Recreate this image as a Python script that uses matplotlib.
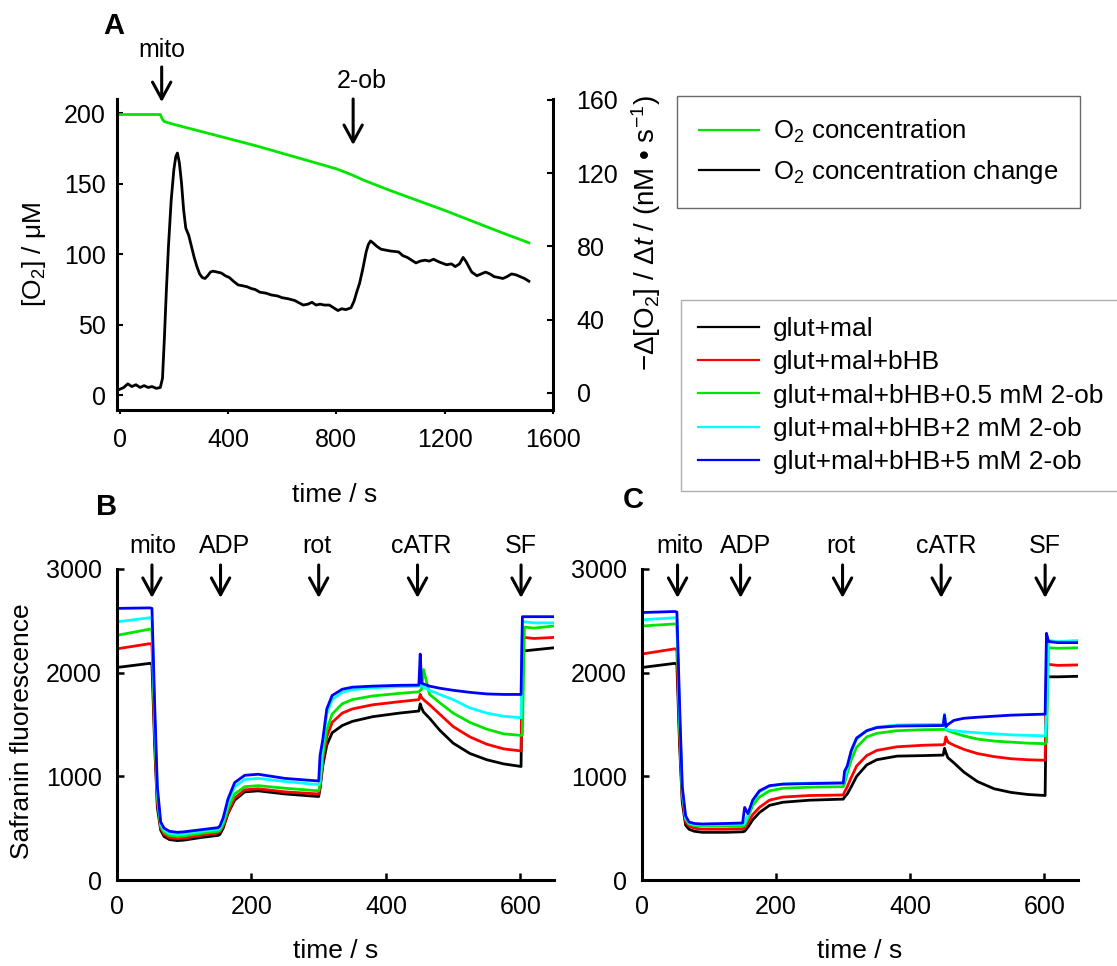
import matplotlib
matplotlib.use("Agg")
import matplotlib.pyplot as plt
from matplotlib.lines import Line2D

# ---- panel A: oxygen electrode trace ----
A_O2_TIME = [0, 150, 158, 165, 200, 300, 400, 500, 600, 700,
             800, 860, 900, 1000, 1100, 1200, 1300, 1400, 1511]
A_O2_CONC = [199, 199, 195.5, 194, 192, 187, 182, 177, 171.5, 166,
             160.5, 156, 152.5, 145, 138, 131, 123.5, 116, 108]

A_RATE_TIME = [0, 15, 30, 45, 60, 75, 90, 105, 120, 135,
               150, 158, 165, 172, 180, 190, 200, 207, 213, 220,
               228, 236, 244, 255, 265, 275, 285, 295, 305, 315,
               325, 335, 345, 360, 375, 390, 405, 420, 437, 455,
               470, 486, 500, 518, 540, 560, 582, 600, 620, 646,
               665, 678, 695, 710, 725, 740, 755, 774, 790, 806,
               820, 835, 854, 865, 875, 886, 898, 910, 918, 926,
               935, 950, 965, 982, 1000, 1030, 1045, 1062, 1078, 1094,
               1110, 1127, 1143, 1159, 1180, 1207, 1225, 1239, 1255, 1268,
               1278, 1287, 1300, 1319, 1335, 1351, 1367, 1383, 1400, 1415,
               1430, 1447, 1463, 1479, 1495, 1511]
A_RATE = [2, 3, 5, 3.5, 4.5, 3, 4, 3, 3.5, 2.5,
          3, 8, 30, 55, 80, 105, 122, 129, 131, 126,
          115, 100, 90, 86, 80, 74, 69, 65, 63, 62.5,
          64, 66, 66.5, 66, 65.5, 64, 63, 61, 59, 58.5,
          58, 57, 56.5, 55, 54.5, 53.5, 53, 52, 51.5, 50.5,
          49, 48, 48.5, 49.5, 48, 48.5, 48, 48, 46.5, 45,
          46, 45.5, 46.5, 50, 55, 60, 68, 77, 81, 83,
          82, 80, 78.5, 78, 77.5, 77, 75, 74, 72.5, 71,
          72, 72.5, 72, 73, 71.5, 70, 70.5, 69, 70.5, 74,
          72, 69.5, 66, 64, 65, 66, 65, 63.5, 63, 62.5,
          63.5, 65, 64.5, 63.5, 62.5, 61]

A_MARKS = ["mito", "2-ob"]
A_MARK_TIME = [155, 862]
A_MARK_TEXT_TIME = [157, 894]

# ---- panels B and C: safranin fluorescence ----
TIME = [0, 49, 52, 56, 60, 65, 70, 78, 90, 100,
        125, 150, 153, 158, 165, 175, 190, 210, 250, 300,
        302, 306, 312, 320, 335, 350, 380, 420, 449, 451,
        453, 456, 465, 480, 500, 525, 550, 575, 601, 603,
        606, 620, 650]

B_GLUT_MAL = [2050, 2090, 2080, 1300, 700, 480, 420, 390, 380, 385,
              410, 430, 440, 500, 640, 770, 850, 860, 830, 805,
              880, 1100, 1300, 1420, 1490, 1530, 1575, 1610, 1630, 1700,
              1660, 1620, 1560, 1445, 1320, 1220, 1160, 1120, 1095, 2200,
              2210, 2220, 2240]
B_BHB = [2230, 2280, 2270, 1400, 750, 500, 440, 410, 400, 405,
         430, 455, 465, 520, 650, 790, 870, 880, 850, 830,
         900, 1150, 1380, 1520, 1610, 1650, 1690, 1720, 1740, 1790,
         1760, 1740, 1690, 1600, 1480, 1380, 1310, 1265, 1245, 2360,
         2340, 2330, 2340]
B_OB05 = [2360, 2420, 2410, 1500, 800, 520, 460, 430, 420, 425,
          450, 470, 480, 540, 690, 830, 900, 910, 885, 860,
          920, 1200, 1450, 1600, 1700, 1740, 1775, 1800, 1815, 1830,
          1840, 2030, 1790, 1710, 1610, 1520, 1455, 1410, 1395, 1400,
          2440, 2430, 2450]
B_OB2 = [2490, 2530, 2520, 1600, 850, 540, 480, 450, 440, 445,
         470, 490, 500, 570, 740, 900, 970, 980, 950, 920,
         960, 1300, 1600, 1740, 1810, 1835, 1855, 1865, 1870, 1880,
         1875, 1860, 1830, 1790, 1740, 1660, 1610, 1580, 1565, 2500,
         2490, 2480, 2480]
B_OB5 = [2620, 2625, 2620, 1700, 900, 560, 500, 470, 460, 465,
         485, 505, 520, 600, 780, 940, 1010, 1020, 980, 955,
         1200, 1350, 1650, 1780, 1840, 1860, 1870, 1878, 1880, 2180,
         1900, 1890, 1870, 1850, 1830, 1810, 1795, 1790, 1790, 2540,
         2540, 2540, 2540]

C_GLUT_MAL = [2050, 2090, 2080, 1300, 750, 530, 490, 470, 460, 460,
              460, 465, 470, 510, 580, 650, 720, 750, 770, 780,
              800, 830, 900, 1000, 1110, 1160, 1195, 1200, 1205, 1270,
              1230, 1180, 1130, 1040, 950, 880, 845, 825, 815, 1960,
              1960, 1960, 1965]
C_BHB = [2180, 2230, 2220, 1400, 800, 560, 520, 500, 490, 490,
         490, 495, 500, 550, 630, 700, 770, 800, 815, 820,
         850, 900, 990, 1100, 1200, 1250, 1285, 1300, 1305, 1310,
         1380, 1330, 1300, 1260, 1220, 1190, 1170, 1160, 1155, 2100,
         2080, 2070, 2075]
C_OB05 = [2450, 2470, 2460, 1500, 850, 590, 540, 525, 520, 520,
          520, 520, 525, 600, 720, 800, 860, 885, 895, 900,
          930, 1030, 1160, 1280, 1380, 1415, 1440, 1450, 1452, 1455,
          1450, 1440, 1420, 1390, 1360, 1340, 1330, 1320, 1315, 1330,
          2240, 2235, 2240]
C_OB2 = [2510, 2530, 2520, 1600, 870, 600, 550, 535, 530, 532,
         535, 540, 545, 630, 760, 850, 905, 925, 935, 940,
         970, 1080, 1240, 1360, 1440, 1475, 1495, 1500, 1500, 1600,
         1460, 1450, 1440, 1430, 1420, 1410, 1400, 1395, 1390, 1600,
         2310, 2300, 2310]
C_OB5 = [2580, 2590, 2585, 1700, 900, 620, 560, 545, 540, 542,
         545, 550, 700, 640, 770, 860, 910, 925, 930, 935,
         1050, 1100, 1250, 1370, 1440, 1470, 1485, 1488, 1490, 1590,
         1480, 1500, 1540, 1560, 1570, 1580, 1590, 1595, 1600, 2380,
         2300, 2290, 2290]

SERIES_LABELS = ["glut+mal", "glut+mal+bHB", "glut+mal+bHB+0.5 mM 2-ob",
                 "glut+mal+bHB+2 mM 2-ob", "glut+mal+bHB+5 mM 2-ob"]
SERIES_COLORS = ["#000000", "#ff0000", "#00e600", "#00ffff", "#0000ff"]

MARKS = ["mito", "ADP", "rot", "cATR", "SF"]
B_MARK_TIME = [52, 154, 300, 447, 601]
B_MARK_TEXT_TIME = [53, 160, 297, 453, 601]
C_MARK_TIME = [53, 147, 299, 446, 601]
C_MARK_TEXT_TIME = [56, 155, 297, 453, 600]


plt.rcParams["font.family"] = ["Liberation Sans", "DejaVu Sans"]
plt.rcParams["mathtext.fontset"] = "custom"
plt.rcParams["mathtext.rm"] = "Liberation Sans"
plt.rcParams["mathtext.it"] = "Liberation Sans:italic"
plt.rcParams["mathtext.bf"] = "Liberation Sans:bold"
plt.rcParams["font.size"] = 18
plt.rcParams["axes.labelsize"] = 19
plt.rcParams["axes.linewidth"] = 2.2

W, H = 1117, 966
fig = plt.figure(figsize=(W / 100, H / 100), dpi=100)


def px_axes(left, top, right, bottom):
    return fig.add_axes([left / W, 1 - bottom / H, (right - left) / W, (bottom - top) / H])


def mark(ax, label, x_arrow, x_text, text_y, tail_y, tip_y):
    tr = ax.get_xaxis_transform()
    ax.annotate("", xy=(x_arrow, tip_y), xytext=(x_arrow, tail_y),
                xycoords=tr, textcoords=tr, annotation_clip=False,
                arrowprops=dict(arrowstyle="->,head_length=0.55,head_width=0.3",
                                lw=2.2, color="black", mutation_scale=22,
                                shrinkA=0, shrinkB=0))
    ax.text(x_text, text_y, label, transform=tr, ha="center", va="center")


# ---- A ----
axA = px_axes(117, 99, 553, 410)
axA2 = axA.twinx()
axA.plot(A_O2_TIME, A_O2_CONC, color="#00e600", lw=2)
axA2.plot(A_RATE_TIME, A_RATE, color="black", lw=2)
axA.set_xlim(-10, 1600)
axA.set_ylim(-10.6, 210)
axA2.set_ylim(-9.3, 160.5)
axA.set_xticks([0, 400, 800, 1200, 1600])
axA.set_yticks([0, 50, 100, 150, 200])
axA2.set_yticks([0, 40, 80, 120, 160])
for ax in (axA, axA2):
    ax.spines["top"].set_visible(False)
axA.spines["right"].set_visible(False)
axA2.spines["left"].set_visible(False)
axA2.spines["bottom"].set_visible(False)
axA.tick_params(axis="x", direction="out", length=3, width=1.5, pad=10)
axA.tick_params(axis="y", direction="in", length=4, width=1.5, pad=8)
axA2.tick_params(axis="y", direction="in", length=4, width=1.5, pad=17)
axA.set_ylabel("[O$_2$] / μM")
axA.yaxis.set_label_coords(-0.158, 0.5)
axA2.set_ylabel("−Δ[O$_2$] / Δ$t$ / (nM • s$^{-1}$)", fontsize=20)
axA2.yaxis.set_label_coords(1.175, 0.57)
axA.set_xlabel("time / s")
axA.xaxis.set_label_coords(0.5, -0.235)
mark(axA, A_MARKS[0], A_MARK_TIME[0], A_MARK_TEXT_TIME[0], 1.158, 1.103, 0.99)
mark(axA, A_MARKS[1], A_MARK_TIME[1], A_MARK_TEXT_TIME[1], 1.058, 1.0, 0.852)

lgA = fig.legend(handles=[Line2D([], [], color="#00e600", lw=1.6),
                          Line2D([], [], color="black", lw=1.6)],
                 labels=["O$_2$ concentration", "O$_2$ concentration change"],
                 loc="upper left", bbox_to_anchor=(677 / W, 1 - 96 / H),
                 borderaxespad=0, fancybox=False, edgecolor="#444444",
                 borderpad=0.85, labelspacing=0.5, handlelength=2.35,
                 handletextpad=0.55, fontsize=18.5)
lgA.get_frame().set_linewidth(1.0)

# ---- B and C ----
axB = px_axes(117, 569, 554, 880)
axC = px_axes(642, 569, 1078, 880)
panels = [
    (axB, [B_GLUT_MAL, B_BHB, B_OB05, B_OB2, B_OB5], B_MARK_TIME, B_MARK_TEXT_TIME),
    (axC, [C_GLUT_MAL, C_BHB, C_OB05, C_OB2, C_OB5], C_MARK_TIME, C_MARK_TEXT_TIME),
]
for ax, series, mt, mtt in panels:
    for vals, color, lab in zip(series, SERIES_COLORS, SERIES_LABELS):
        ax.plot(TIME, vals, color=color, lw=2, label=lab)
    ax.set_xlim(0, 650)
    ax.set_ylim(0, 3000)
    ax.set_xticks([0, 200, 400, 600])
    ax.set_yticks([0, 1000, 2000, 3000])
    ax.spines["top"].set_visible(False)
    ax.spines["right"].set_visible(False)
    ax.tick_params(direction="in", length=5, width=1.8, pad=11)
    ax.set_xlabel("time / s")
    ax.xaxis.set_label_coords(0.5, -0.19)
    for lab, xa, xt in zip(MARKS, mt, mtt):
        mark(ax, lab, xa, xt, 1.074, 1.013, 0.907)

axB.set_ylabel("Safranin fluorescence")
axB.yaxis.set_label_coords(-0.19, 0.48)

lgB = fig.legend(handles=[Line2D([], [], color=c, lw=1.6) for c in SERIES_COLORS],
                 labels=SERIES_LABELS,
                 loc="upper left", bbox_to_anchor=(681 / W, 1 - 300 / H),
                 borderaxespad=0, fancybox=False, edgecolor="#9a9a9a",
                 borderpad=0.65, labelspacing=0.35, handlelength=2.31,
                 handletextpad=0.53, fontsize=19)
lgB.get_frame().set_linewidth(1.0)

fig.text(114 / W, 1 - 26 / H, "A", fontsize=21, fontweight="bold", ha="center", va="center")
fig.text(107 / W, 1 - 507 / H, "B", fontsize=21, fontweight="bold", ha="center", va="center")
fig.text(633 / W, 1 - 500 / H, "C", fontsize=21, fontweight="bold", ha="center", va="center")

fig.savefig("out.png", dpi=100)
